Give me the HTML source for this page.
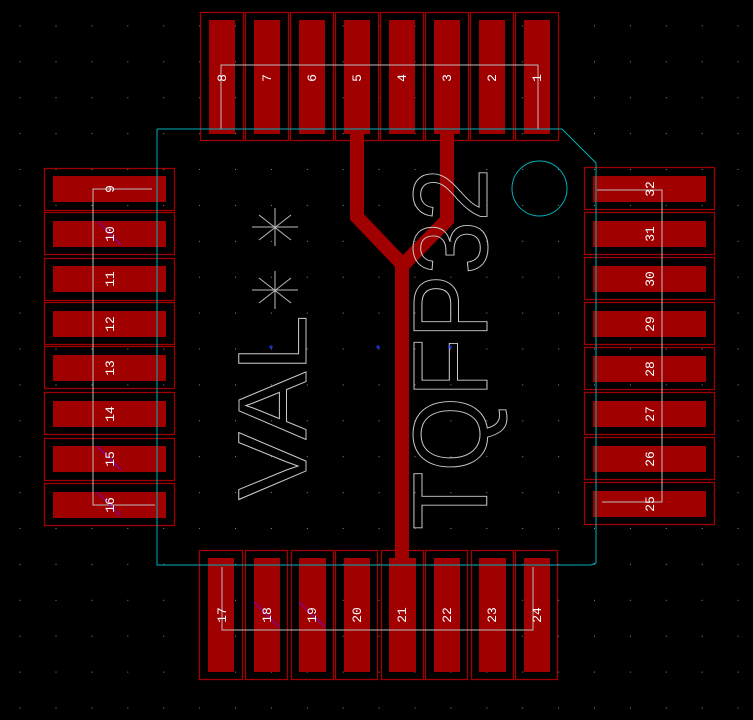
<!DOCTYPE html>
<html><head><meta charset="utf-8"><style>html,body{margin:0;padding:0;background:#000;}svg{display:block}</style></head>
<body>
<svg xmlns="http://www.w3.org/2000/svg" width="753" height="720" viewBox="0 0 753 720">
<defs>
<pattern id="g" x="19.6" y="25.4" width="35.9" height="35.9" patternUnits="userSpaceOnUse">
<rect x="0" y="0" width="1" height="1" fill="#8a8a8a"/>
</pattern>
</defs>
<rect width="753" height="720" fill="#000"/>
<rect width="753" height="720" fill="url(#g)"/>

<g fill="none" stroke="#a00000" stroke-width="1.3">
<!-- top outlines -->
<rect x="200.5" y="12.5" width="43" height="128"/>
<rect x="245.5" y="12.5" width="43" height="128"/>
<rect x="290.5" y="12.5" width="43" height="128"/>
<rect x="335.5" y="12.5" width="43" height="128"/>
<rect x="380.5" y="12.5" width="43" height="128"/>
<rect x="425.5" y="12.5" width="43" height="128"/>
<rect x="470.5" y="12.5" width="43" height="128"/>
<rect x="515.5" y="12.5" width="43" height="128"/>
<!-- bottom -->
<rect x="199.5" y="550.5" width="43" height="129"/>
<rect x="245.5" y="550.5" width="42" height="129"/>
<rect x="291.5" y="550.5" width="42" height="129"/>
<rect x="335.5" y="550.5" width="42" height="129"/>
<rect x="381.5" y="550.5" width="42" height="129"/>
<rect x="425.5" y="550.5" width="42" height="129"/>
<rect x="471.5" y="550.5" width="42" height="129"/>
<rect x="515.5" y="550.5" width="42" height="129"/>
<!-- left -->
<rect x="44.5" y="168.5" width="130" height="42"/>
<rect x="44.5" y="212.5" width="130" height="42"/>
<rect x="44.5" y="258.5" width="130" height="42"/>
<rect x="44.5" y="302.5" width="130" height="42"/>
<rect x="44.5" y="346.5" width="130" height="42"/>
<rect x="44.5" y="392.5" width="130" height="42"/>
<rect x="44.5" y="438.5" width="130" height="42"/>
<rect x="44.5" y="483.5" width="130" height="42"/>
<!-- right -->
<rect x="584.5" y="167.5" width="130" height="42"/>
<rect x="584.5" y="212.5" width="130" height="42"/>
<rect x="584.5" y="257.5" width="130" height="42"/>
<rect x="584.5" y="302.5" width="130" height="42"/>
<rect x="584.5" y="347.5" width="130" height="42"/>
<rect x="584.5" y="392.5" width="130" height="42"/>
<rect x="584.5" y="437.5" width="130" height="42"/>
<rect x="584.5" y="482.5" width="130" height="42"/>
</g>

<g fill="#a00000">
<rect x="209" y="20" width="26" height="114"/>
<rect x="254" y="20" width="26" height="114"/>
<rect x="299" y="20" width="26" height="114"/>
<rect x="344" y="20" width="26" height="114"/>
<rect x="389" y="20" width="26" height="114"/>
<rect x="434" y="20" width="26" height="114"/>
<rect x="479" y="20" width="26" height="114"/>
<rect x="524" y="20" width="26" height="114"/>

<rect x="208" y="558" width="26" height="114"/>
<rect x="254" y="558" width="26" height="114"/>
<rect x="299" y="558" width="27" height="114"/>
<rect x="344" y="558" width="26" height="114"/>
<rect x="389" y="558" width="27" height="114"/>
<rect x="434" y="558" width="26" height="114"/>
<rect x="479" y="558" width="27" height="114"/>
<rect x="524" y="558" width="26" height="114"/>

<rect x="53" y="176" width="113" height="26"/>
<rect x="53" y="221" width="113" height="26"/>
<rect x="53" y="266" width="113" height="26"/>
<rect x="53" y="311" width="113" height="26"/>
<rect x="53" y="355" width="113" height="26"/>
<rect x="53" y="401" width="113" height="26"/>
<rect x="53" y="446" width="113" height="26"/>
<rect x="53" y="492" width="113" height="26"/>

<rect x="593" y="176" width="113" height="26"/>
<rect x="593" y="221" width="113" height="26"/>
<rect x="593" y="266" width="113" height="26"/>
<rect x="593" y="311" width="113" height="26"/>
<rect x="593" y="356" width="113" height="26"/>
<rect x="593" y="401" width="113" height="26"/>
<rect x="593" y="446" width="113" height="26"/>
<rect x="593" y="491" width="113" height="26"/>
</g>

<!-- traces -->
<g fill="none" stroke="#a00000" stroke-width="14" stroke-linejoin="miter">
<polyline points="357,130 357,217 402,264 402,562"/>
<polyline points="447,130 447,220 402,266"/>
</g>

<!-- courtyard -->
<g fill="none" stroke="#00b0b8" stroke-width="1">
<polyline points="157,129 562,129 596,163 596,563 591,565 157,565 157,129"/>
<circle cx="539.5" cy="188.5" r="27.5"/>
<line x1="0" y1="129" x2="157" y2="129" stroke-opacity="0"/>
</g>

<!-- silkscreen -->
<g fill="none" stroke="#bbbbbb" stroke-width="1">
<polyline points="221,129 221,65 538,65 538,129"/>
<polyline points="152,189 93,189 93,505 155,505"/>
<polyline points="222,567 222,630 533,630 533,567"/>
<polyline points="597,190 662,190 662,502 602,502"/>
<!-- asterisks -->
<g transform="translate(275,227)"><line x1="-23" y1="0" x2="23" y2="0"/><line x1="0" y1="-19" x2="0" y2="19"/><line x1="-16" y1="-12" x2="16" y2="13"/><line x1="-16" y1="13" x2="16" y2="-12"/></g>
<g transform="translate(275,290)"><line x1="-23" y1="0" x2="23" y2="0"/><line x1="0" y1="-19" x2="0" y2="19"/><line x1="-16" y1="-12" x2="16" y2="13"/><line x1="-16" y1="13" x2="16" y2="-12"/></g>
</g>

<g font-family="Liberation Sans, sans-serif" fill="none" stroke="#c8c8c8" stroke-width="1">
<text transform="translate(306,500) rotate(-90)" font-size="97" textLength="185" lengthAdjust="spacingAndGlyphs">VAL</text>
<text transform="translate(487,530) rotate(-90)" font-size="106" textLength="362" lengthAdjust="spacingAndGlyphs">TQFP32</text>
</g>

<!-- purple marks -->
<g stroke="#8000c0" stroke-width="1">
<line x1="98" y1="221" x2="121" y2="245"/>
<line x1="97" y1="446" x2="121" y2="470"/>
<line x1="97" y1="492" x2="121" y2="516"/>
<line x1="254" y1="602" x2="279" y2="627"/>
<line x1="299" y1="602" x2="325" y2="627"/>
</g>

<!-- blue crosses -->
<g stroke="#2040ff" stroke-width="1">
<line x1="269" y1="347" x2="273" y2="347"/><line x1="271" y1="345" x2="271" y2="349"/>
<line x1="376" y1="347" x2="380" y2="347"/><line x1="378" y1="345" x2="378" y2="349"/>
<line x1="448" y1="347" x2="452" y2="347"/><line x1="450" y1="345" x2="450" y2="349"/>
</g>

<!-- pad numbers -->
<g font-family="Liberation Mono, monospace" font-size="13" fill="#ffffff" text-anchor="middle">
<text transform="translate(226,78) rotate(-90)">8</text>
<text transform="translate(271,78) rotate(-90)">7</text>
<text transform="translate(316,78) rotate(-90)">6</text>
<text transform="translate(361,78) rotate(-90)">5</text>
<text transform="translate(406,78) rotate(-90)">4</text>
<text transform="translate(451,78) rotate(-90)">3</text>
<text transform="translate(496,78) rotate(-90)">2</text>
<text transform="translate(541,78) rotate(-90)">1</text>

<text transform="translate(114,189) rotate(-90)">9</text>
<text transform="translate(114,234) rotate(-90)">10</text>
<text transform="translate(114,279) rotate(-90)">11</text>
<text transform="translate(114,324) rotate(-90)">12</text>
<text transform="translate(114,368) rotate(-90)">13</text>
<text transform="translate(114,414) rotate(-90)">14</text>
<text transform="translate(114,459) rotate(-90)">15</text>
<text transform="translate(114,505) rotate(-90)">16</text>

<text transform="translate(226,615) rotate(-90)">17</text>
<text transform="translate(271,615) rotate(-90)">18</text>
<text transform="translate(316,615) rotate(-90)">19</text>
<text transform="translate(361,615) rotate(-90)">20</text>
<text transform="translate(406,615) rotate(-90)">21</text>
<text transform="translate(451,615) rotate(-90)">22</text>
<text transform="translate(496,615) rotate(-90)">23</text>
<text transform="translate(541,615) rotate(-90)">24</text>

<text transform="translate(654,189) rotate(-90)">32</text>
<text transform="translate(654,234) rotate(-90)">31</text>
<text transform="translate(654,279) rotate(-90)">30</text>
<text transform="translate(654,324) rotate(-90)">29</text>
<text transform="translate(654,369) rotate(-90)">28</text>
<text transform="translate(654,414) rotate(-90)">27</text>
<text transform="translate(654,459) rotate(-90)">26</text>
<text transform="translate(654,504) rotate(-90)">25</text>
</g>
</svg>
</body></html>
